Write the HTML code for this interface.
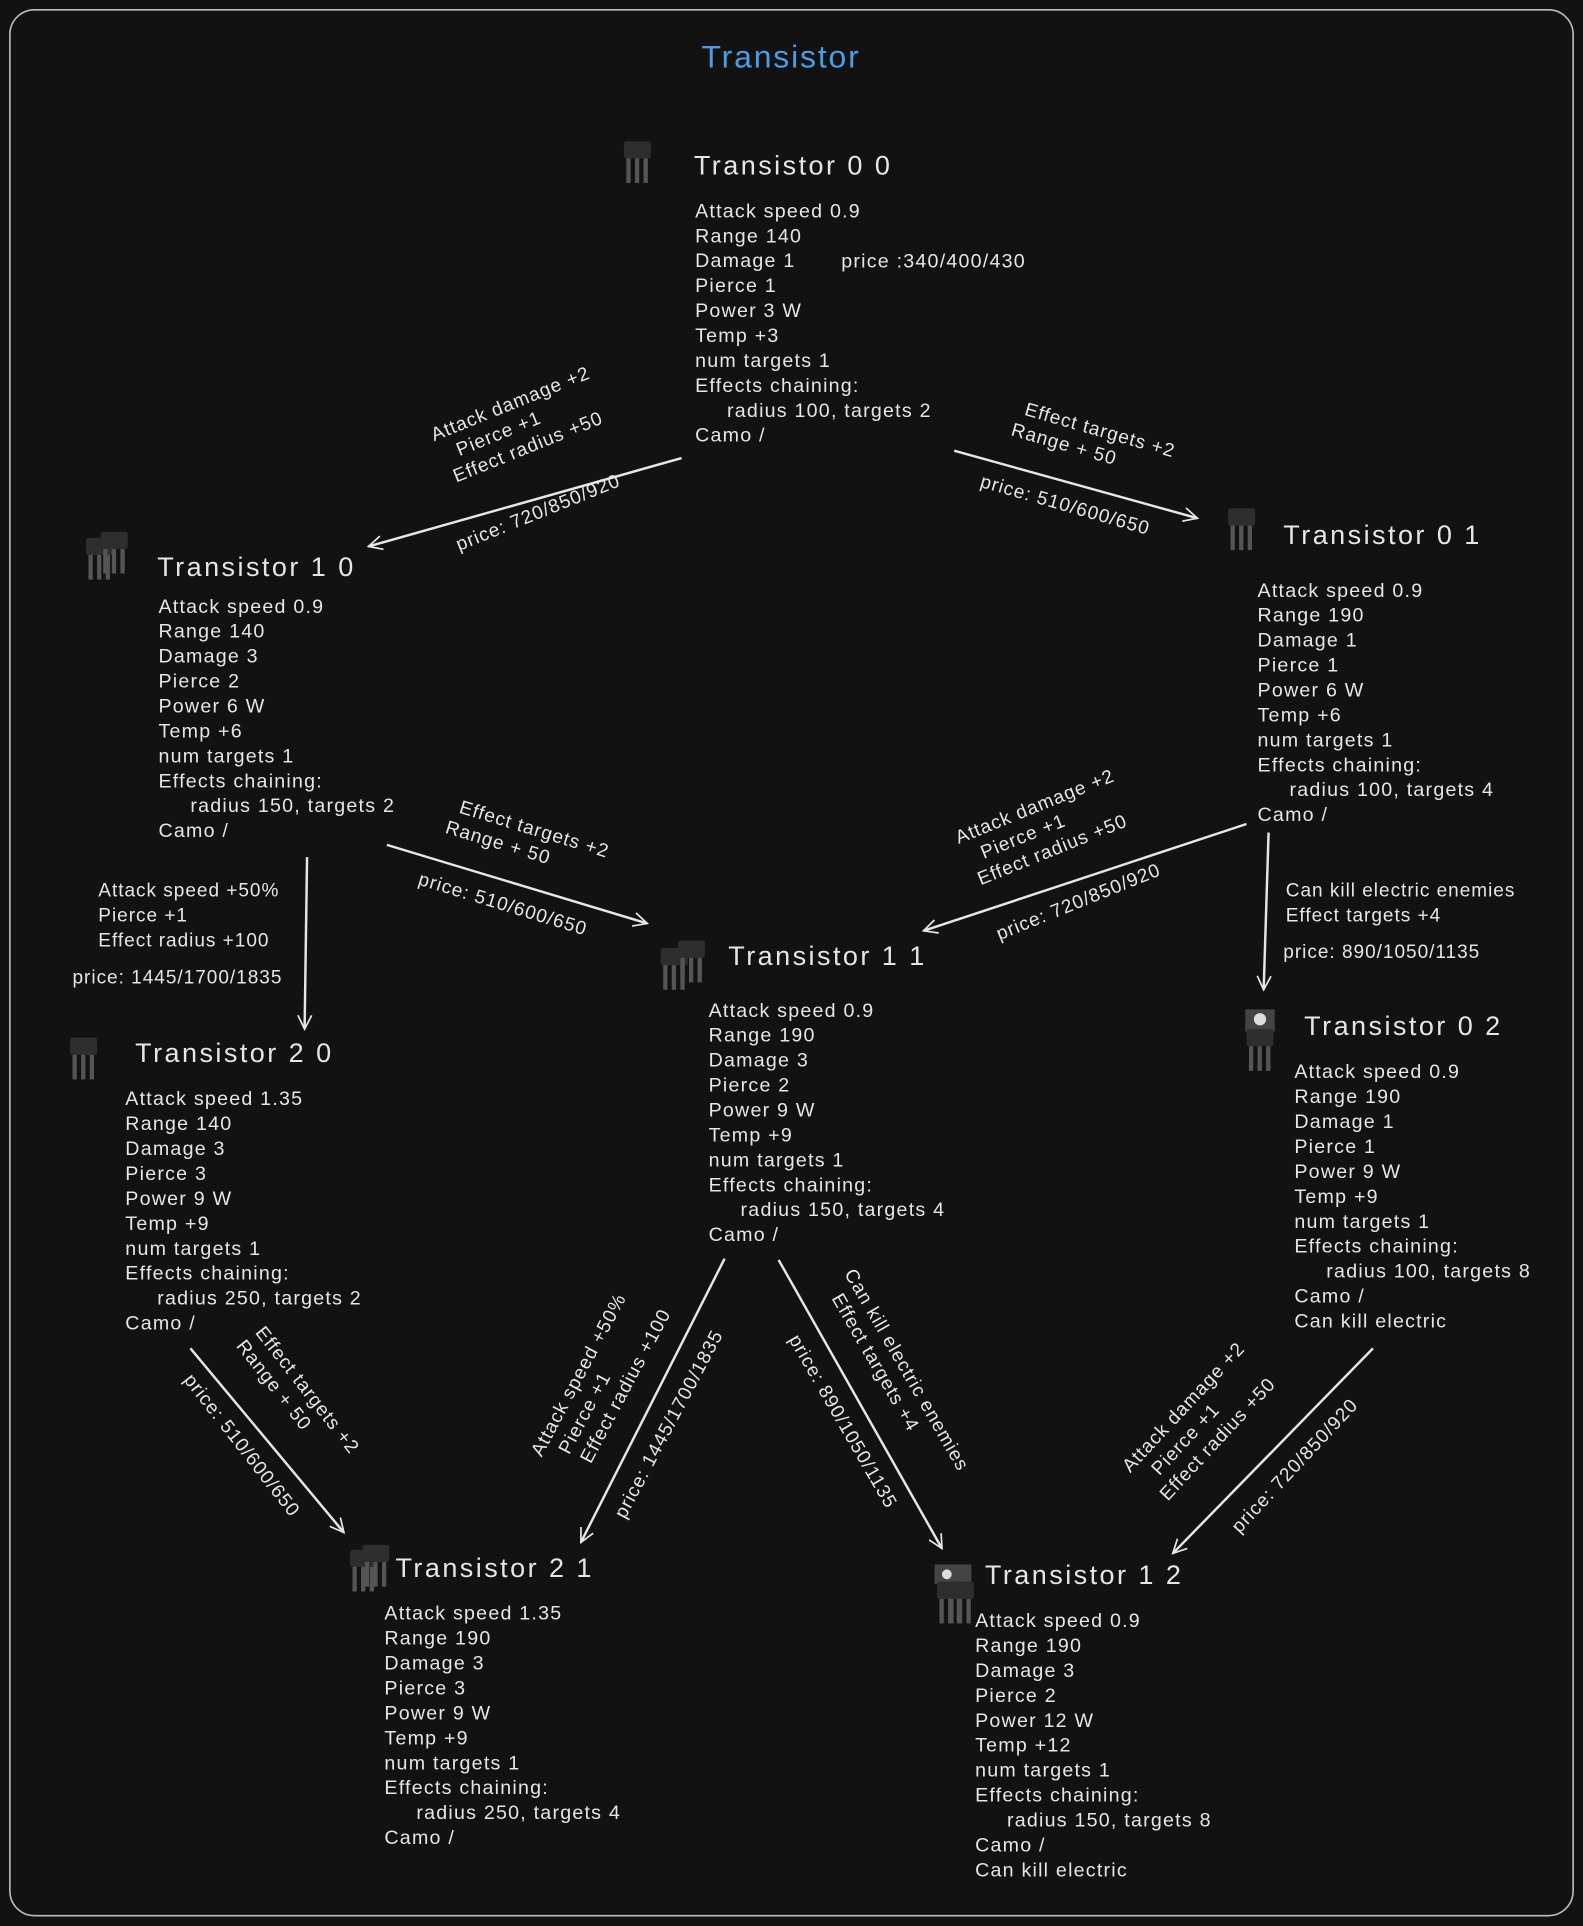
<!DOCTYPE html>
<html><head><meta charset="utf-8"><style>
html,body{margin:0;padding:0;background:#121212;}
svg{display:block;}
text{font-family:"Liberation Sans",sans-serif;fill:#e6e6e6;}
.b{font-size:16px;letter-spacing:1px;}
.t{font-size:22px;letter-spacing:2px;}
.l{font-size:15.5px;letter-spacing:0.8px;}
</style></head><body>
<svg width="1583" height="1926" viewBox="0 0 1289 1568.4" xmlns="http://www.w3.org/2000/svg">
<defs>
<marker id="ah" viewBox="0 0 20 20" refX="18" refY="10" markerWidth="14" markerHeight="14" orient="auto" markerUnits="userSpaceOnUse">
<path d="M2,2 L18,10 L2,18" fill="none" stroke="#e6e6e6" stroke-width="2"/>
</marker>
<g id="ic"><rect x="0" y="0" width="22" height="14" rx="2" fill="#2e2e2e"/><rect x="2" y="14" width="3.5" height="20" fill="#555"/><rect x="9" y="14" width="3.5" height="20" fill="#555"/><rect x="16" y="14" width="3.5" height="20" fill="#555"/></g>
</defs>
<rect width="1289" height="1568.4" fill="#121212"/>
<rect x="8" y="8" width="1273" height="1552" rx="20" fill="none" stroke="#bdbdbd" stroke-width="1.3"/>
<text x="636" y="55" text-anchor="middle" style="font-size:26px;fill:#4b9de6;letter-spacing:1.5px">Transistor</text>

<use href="#ic" x="508" y="115"/>
<use href="#ic" x="70" y="438"/><use href="#ic" x="82" y="433"/>
<use href="#ic" x="1000" y="414"/>
<use href="#ic" x="538" y="772"/><use href="#ic" x="552" y="766"/>
<use href="#ic" x="57" y="845"/>
<rect x="1014" y="822" width="24" height="18" fill="#444"/><circle cx="1026" cy="830" r="5" fill="#ddd"/><use href="#ic" x="1015" y="838"/>
<use href="#ic" x="285" y="1262"/><use href="#ic" x="295" y="1258"/>
<rect x="761" y="1274" width="30" height="16" fill="#444"/><circle cx="771" cy="1282" r="4" fill="#ddd"/><use href="#ic" x="763" y="1288"/><use href="#ic" x="771" y="1288"/>

<g>
<text class="t" x="565" y="142">Transistor 0 0</text>
<text class="b"><tspan x="566" y="177">Attack speed 0.9</tspan><tspan x="566" dy="20.3">Range 140</tspan><tspan x="566" dy="20.3">Damage 1</tspan><tspan x="566" dy="20.3">Pierce 1</tspan><tspan x="566" dy="20.3">Power 3 W</tspan><tspan x="566" dy="20.3">Temp +3</tspan><tspan x="566" dy="20.3">num targets 1</tspan><tspan x="566" dy="20.3">Effects chaining:</tspan><tspan x="592" dy="20.3">radius 100, targets 2</tspan><tspan x="566" dy="20.3">Camo /</tspan></text>
<text class="b" x="685" y="218">price :340/400/430</text>
</g>
<g>
<text class="t" x="128" y="469">Transistor 1 0</text>
<text class="b"><tspan x="129" y="499">Attack speed 0.9</tspan><tspan x="129" dy="20.3">Range 140</tspan><tspan x="129" dy="20.3">Damage 3</tspan><tspan x="129" dy="20.3">Pierce 2</tspan><tspan x="129" dy="20.3">Power 6 W</tspan><tspan x="129" dy="20.3">Temp +6</tspan><tspan x="129" dy="20.3">num targets 1</tspan><tspan x="129" dy="20.3">Effects chaining:</tspan><tspan x="155" dy="20.3">radius 150, targets 2</tspan><tspan x="129" dy="20.3">Camo /</tspan></text>
</g>
<g>
<text class="t" x="1045" y="443">Transistor 0 1</text>
<text class="b"><tspan x="1024" y="486">Attack speed 0.9</tspan><tspan x="1024" dy="20.3">Range 190</tspan><tspan x="1024" dy="20.3">Damage 1</tspan><tspan x="1024" dy="20.3">Pierce 1</tspan><tspan x="1024" dy="20.3">Power 6 W</tspan><tspan x="1024" dy="20.3">Temp +6</tspan><tspan x="1024" dy="20.3">num targets 1</tspan><tspan x="1024" dy="20.3">Effects chaining:</tspan><tspan x="1050" dy="20.3">radius 100, targets 4</tspan><tspan x="1024" dy="20.3">Camo /</tspan></text>
</g>
<g>
<text class="t" x="593" y="786">Transistor 1 1</text>
<text class="b"><tspan x="577" y="828">Attack speed 0.9</tspan><tspan x="577" dy="20.3">Range 190</tspan><tspan x="577" dy="20.3">Damage 3</tspan><tspan x="577" dy="20.3">Pierce 2</tspan><tspan x="577" dy="20.3">Power 9 W</tspan><tspan x="577" dy="20.3">Temp +9</tspan><tspan x="577" dy="20.3">num targets 1</tspan><tspan x="577" dy="20.3">Effects chaining:</tspan><tspan x="603" dy="20.3">radius 150, targets 4</tspan><tspan x="577" dy="20.3">Camo /</tspan></text>
</g>
<g>
<text class="t" x="110" y="865">Transistor 2 0</text>
<text class="b"><tspan x="102" y="900">Attack speed 1.35</tspan><tspan x="102" dy="20.3">Range 140</tspan><tspan x="102" dy="20.3">Damage 3</tspan><tspan x="102" dy="20.3">Pierce 3</tspan><tspan x="102" dy="20.3">Power 9 W</tspan><tspan x="102" dy="20.3">Temp +9</tspan><tspan x="102" dy="20.3">num targets 1</tspan><tspan x="102" dy="20.3">Effects chaining:</tspan><tspan x="128" dy="20.3">radius 250, targets 2</tspan><tspan x="102" dy="20.3">Camo /</tspan></text>
</g>
<g>
<text class="t" x="1062" y="843">Transistor 0 2</text>
<text class="b"><tspan x="1054" y="878">Attack speed 0.9</tspan><tspan x="1054" dy="20.3">Range 190</tspan><tspan x="1054" dy="20.3">Damage 1</tspan><tspan x="1054" dy="20.3">Pierce 1</tspan><tspan x="1054" dy="20.3">Power 9 W</tspan><tspan x="1054" dy="20.3">Temp +9</tspan><tspan x="1054" dy="20.3">num targets 1</tspan><tspan x="1054" dy="20.3">Effects chaining:</tspan><tspan x="1080" dy="20.3">radius 100, targets 8</tspan><tspan x="1054" dy="20.3">Camo /</tspan><tspan x="1054" dy="20.3">Can kill electric</tspan></text>
</g>
<g>
<text class="t" x="322" y="1284">Transistor 2 1</text>
<text class="b"><tspan x="313" y="1319">Attack speed 1.35</tspan><tspan x="313" dy="20.3">Range 190</tspan><tspan x="313" dy="20.3">Damage 3</tspan><tspan x="313" dy="20.3">Pierce 3</tspan><tspan x="313" dy="20.3">Power 9 W</tspan><tspan x="313" dy="20.3">Temp +9</tspan><tspan x="313" dy="20.3">num targets 1</tspan><tspan x="313" dy="20.3">Effects chaining:</tspan><tspan x="339" dy="20.3">radius 250, targets 4</tspan><tspan x="313" dy="20.3">Camo /</tspan></text>
</g>
<g>
<text class="t" x="802" y="1290">Transistor 1 2</text>
<text class="b"><tspan x="794" y="1325">Attack speed 0.9</tspan><tspan x="794" dy="20.3">Range 190</tspan><tspan x="794" dy="20.3">Damage 3</tspan><tspan x="794" dy="20.3">Pierce 2</tspan><tspan x="794" dy="20.3">Power 12 W</tspan><tspan x="794" dy="20.3">Temp +12</tspan><tspan x="794" dy="20.3">num targets 1</tspan><tspan x="794" dy="20.3">Effects chaining:</tspan><tspan x="820" dy="20.3">radius 150, targets 8</tspan><tspan x="794" dy="20.3">Camo /</tspan><tspan x="794" dy="20.3">Can kill electric</tspan></text>
</g>

<g stroke="#e6e6e6" stroke-width="2" fill="none" marker-end="url(#ah)">
<line x1="555" y1="373" x2="300" y2="445"/>
<line x1="777" y1="367" x2="975" y2="422"/>
<line x1="250" y1="698" x2="248" y2="838"/>
<line x1="315" y1="688" x2="527" y2="752"/>
<line x1="1015" y1="671" x2="752" y2="758"/>
<line x1="1033" y1="678" x2="1029" y2="806"/>
<line x1="155" y1="1098" x2="280" y2="1248"/>
<line x1="590" y1="1025" x2="473" y2="1256"/>
<line x1="634" y1="1026" x2="767" y2="1261"/>
<line x1="1118" y1="1098" x2="955" y2="1265"/>
</g>

<text class="l" text-anchor="middle" transform="translate(425,352) rotate(-22)"><tspan x="0" y="-20">Attack damage +2</tspan><tspan x="-18" dy="19">Pierce +1</tspan><tspan x="0" dy="19">Effect radius +50</tspan></text>
<text class="l" text-anchor="middle" transform="translate(440,422) rotate(-22)">price: 720/850/920</text>

<text class="l" text-anchor="middle" transform="translate(893,360) rotate(16)"><tspan x="0" y="-5">Effect targets +2</tspan><tspan x="-25" dy="19">Range + 50</tspan></text>
<text class="l" text-anchor="middle" transform="translate(866,416) rotate(16)">price: 510/600/650</text>

<text class="l"><tspan x="80" y="730">Attack speed +50%</tspan><tspan x="80" dy="20.3">Pierce +1</tspan><tspan x="80" dy="20.3">Effect radius +100</tspan></text>
<text class="l" x="59" y="801">price: 1445/1700/1835</text>

<text class="l" text-anchor="middle" transform="translate(433,682) rotate(17)"><tspan x="0" y="-2">Effect targets +2</tspan><tspan x="-25" dy="19">Range + 50</tspan></text>
<text class="l" text-anchor="middle" transform="translate(408,741) rotate(17)">price: 510/600/650</text>

<text class="l" text-anchor="middle" transform="translate(852,680) rotate(-22)"><tspan x="0" y="-20">Attack damage +2</tspan><tspan x="-18" dy="19">Pierce +1</tspan><tspan x="0" dy="19">Effect radius +50</tspan></text>
<text class="l" text-anchor="middle" transform="translate(880,739) rotate(-22)">price: 720/850/920</text>

<text class="l"><tspan x="1047" y="730">Can kill electric enemies</tspan><tspan x="1047" dy="20.3">Effect targets +4</tspan></text>
<text class="l" x="1045" y="780">price: 890/1050/1135</text>

<text class="l" text-anchor="middle" transform="translate(240,1140) rotate(52)"><tspan x="0" y="-8">Effect targets +2</tspan><tspan x="-20" dy="19">Range + 50</tspan></text>
<text class="l" text-anchor="middle" transform="translate(193,1180) rotate(52)">price: 510/600/650</text>

<text class="l" text-anchor="middle" transform="translate(497,1122) rotate(-62)"><tspan x="-10" y="-19">Attack speed +50%</tspan><tspan x="-35" dy="19">Pierce +1</tspan><tspan x="0" dy="19">Effect radius +100</tspan></text>
<text class="l" text-anchor="middle" transform="translate(549,1162) rotate(-62)">price: 1445/1700/1835</text>

<text class="l" text-anchor="middle" transform="translate(727,1122) rotate(60)"><tspan x="0" y="-8">Can kill electric enemies</tspan><tspan x="-18" dy="19">Effect targets +4</tspan></text>
<text class="l" text-anchor="middle" transform="translate(682,1160) rotate(60)">price: 890/1050/1135</text>

<text class="l" text-anchor="middle" transform="translate(982,1163) rotate(-47)"><tspan x="0" y="-20">Attack damage +2</tspan><tspan x="-18" dy="19">Pierce +1</tspan><tspan x="0" dy="19">Effect radius +50</tspan></text>
<text class="l" text-anchor="middle" transform="translate(1058,1197) rotate(-47)">price: 720/850/920</text>
</svg>
</body></html>
